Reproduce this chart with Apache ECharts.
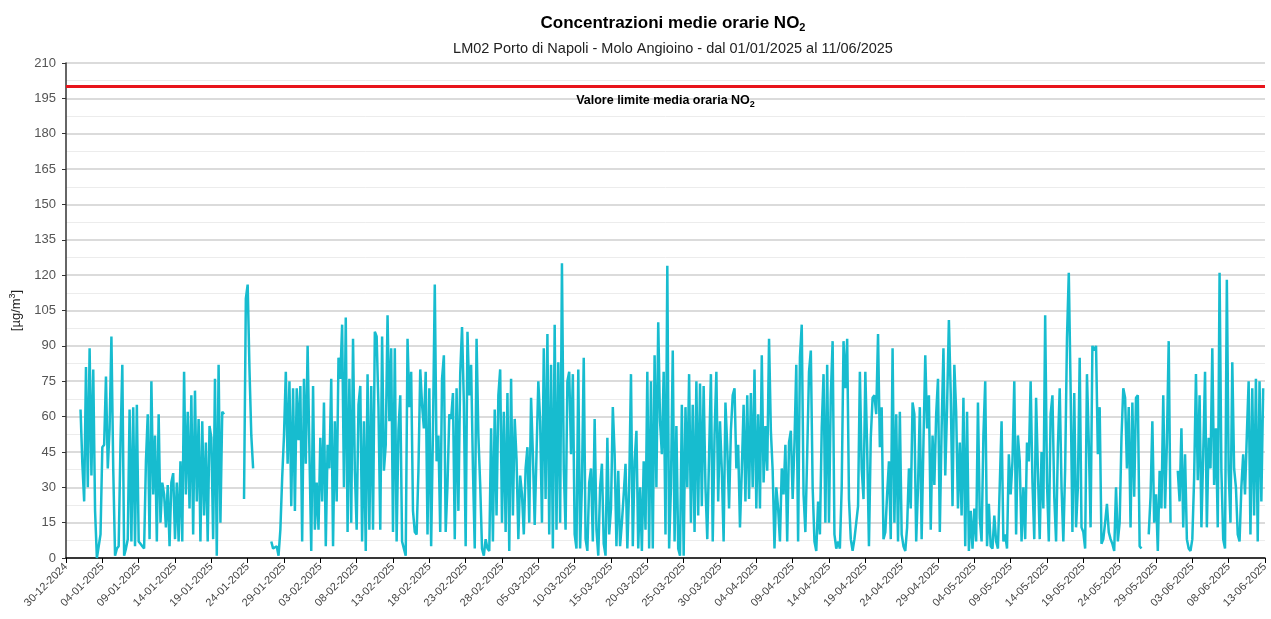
<!DOCTYPE html>
<html>
<head>
<meta charset="utf-8">
<script src="https://cdn.jsdelivr.net/npm/echarts@6/dist/echarts.min.js"></script>
<style>
html, body { margin: 0; padding: 0; background: #fff; }
#chart { width: 1271px; height: 619px; }
</style>
</head>
<body>
<div id="chart"></div>
<script>
// valori medi orari NO2 (ug/m3), un valore ogni 6 ore a partire dal 01-01-2025 00:00
// null = dato mancante
var part1 = [63, 40, 24, 81, 30, 89, 35, 80, 20, 0, 5, 10, 47, 48, 77, 38, 55, 94, 38, 1,
	4, 5, 49, 82, 1, 4, 8, 63, 7, 64, 5, 65, 7, 6, 5, 4, 41, 61, 8, 75,
	27, 52, 7, 61, 15, 32, 27, 13, 31, 5, 32, 36, 8, 32, 7, 41, 7, 79];
var part2 = [27, 62, 21, 69, 10, 71, 24, 59, 7, 58, 18, 49, 7, 56, 51, 8, 76, 1, 82, 15, 62, 61,
	null, null, null, null, null, null, null, null, null, null,
	25, 110, 116, 80, 52, 38,
	null, null, null, null, null, null, null, null, null,
	7, 4, 4, 5, 1, 12, 34, 52, 79, 40, 75, 22, 72, 20, 72, 50, 73, 7, 76, 40];
var part3 = [90, 45, 3, 73, 12, 32, 12, 51, 24, 66, 5, 48, 38, 76, 5, 58, 24, 85, 76, 99,
	30, 102, 11, 76, 15, 93, 37, 12, 65, 73, 7, 58, 3, 78, 12, 73, 12, 96, 94, 64,
	12, 94, 37, 48, 103, 58, 89, 11, 89, 7, 54, 69, 7, 4, 1, 93, 64, 79, 20, 11, 10, 37, 80, 65];
var part4 = [55, 79, 10, 72, 5, 54, 116, 41, 52, 11, 76, 86, 11, 31, 61, 59, 70, 8, 72, 20,
	78, 98, 66, 5, 96, 69, 82, 38, 4, 93, 52, 31, 4, 1, 8, 4, 3, 55, 7, 63,
	18, 69, 80, 15, 62, 11, 70, 3, 76, 18, 59, 42, 8, 35, 27, 10, 38, 47, 15, 68,
	44, 14, 44, 75, 58, 15, 89];
var part5 = [25, 95, 10, 82, 4, 99, 12, 83, 15, 125, 38, 12, 75, 79, 44, 78, 10, 4, 80, 4,
	31, 85, 8, 3, 32, 38, 7, 59, 12, 1, 30, 40, 6, 1, 51, 10, 21, 64, 44, 5,
	37, 5, 15, 27, 40, 4, 30, 78, 5, 41, 54, 4, 30, 3, 41, 12, 79, 4, 75, 4,
	86, 30, 100, 58, 44, 79];
var part6 = [10, 124, 4, 30, 88, 7, 56, 4, 1, 65, 1, 64, 30, 78, 15, 65, 11, 75, 18, 74,
	22, 73, 30, 8, 44, 78, 7, 52, 79, 24, 58, 37, 7, 66, 47, 21, 54, 69, 72, 38,
	48, 13, 37, 65, 24, 69, 25, 70, 30, 80, 21, 61, 21, 86, 32, 56, 37, 93, 54, 37,
	4, 30, 21, 7, 38, 27, 48];
var part7 = [7, 49, 54, 25, 49, 82, 7, 85, 99, 27, 11, 44, 79, 88, 30, 7, 3, 24, 10, 55,
	78, 15, 82, 15, 69, 92, 10, 4, 7, 4, 30, 92, 72, 93, 25, 8, 3, 8, 15, 22,
	79, 38, 25, 79, 47, 5, 51, 68, 69, 61, 95, 47, 64, 8, 11, 27, 41, 8, 89, 15,
	61, 7, 62, 10, 5];
var part8 = [3, 13, 38, 21, 66, 61, 7, 30, 64, 8, 49, 86, 55, 69, 12, 52, 31, 61, 76, 11,
	55, 89, 35, 64, 101, 70, 22, 82, 62, 21, 49, 18, 68, 5, 62, 3, 20, 4, 21, 7,
	66, 17, 7, 52, 75, 5, 23, 5, 4, 18, 7, 4, 4, 58, 7, 10, 4, 44, 27, 41,
	75, 10, 52, 41, 7];
var part9 = [30, 8, 49, 41, 75, 32, 8, 68, 37, 8, 45, 21, 103, 32, 7, 61, 69, 26, 7, 47,
	72, 30, 7, 38, 93, 121, 72, 11, 70, 13, 30, 85, 13, 11, 4, 78, 49, 13, 90, 88,
	90, 44, 64, 6, 8, 15, 23, 11, 8, 6, 3, 30, 7, 15, 51, 72, 68, 38, 64, 13,
	66, 26, 68, 69, 5, 4, null];
var part10 = [null, null, 10, 26, 58, 15, 27, 3, 37, 21, 69, 21, 49, 92, 15,
	null, null, null,
	37, 24, 55, 13, 44, 8, 4, 3, 8, 34, 78, 33, 69, 13, 44, 79, 13, 51, 38, 89, 31, 55, 13, 121,
	37, 8, 4, 118, 37, 15, 83, 38, 30, 10, 7, 30, 44, 27, 52, 75, 10, 72, 18, 76, 7, 75, 24, 72];

var limiteOrario = 200;
var yTicks = [0, 210, 15]; // min, max, passo
var xTicks = [0, 165, 5];  // giorni dal 30-12-2024, passo 5 giorni

var valori = [].concat(part1, part2, part3, part4, part5, part6, part7, part8, part9, part10);

// asse x in giorni dal 30-12-2024; primo dato 01-01-2025 00:00, passo 6 ore
var origine = Date.UTC(2024, 11, 30);
var serie = [];
for (var i = 0; i < valori.length; i++) {
	serie.push([2 + i * 0.25, valori[i]]);
}

function pad(n) { return n < 10 ? '0' + n : '' + n; }
function etichettaData(v) {
	var d = new Date(origine + v * 86400000);
	return pad(d.getUTCDate()) + '-' + pad(d.getUTCMonth() + 1) + '-' + d.getUTCFullYear();
}

var font = 'Liberation Sans, Arial, sans-serif';
var chart = echarts.init(document.getElementById('chart'));
var option = {
	animation: false,
	backgroundColor: '#fff',
	title: {
		text: 'Concentrazioni medie orarie NO{sub|2}',
		subtext: 'LM02 Porto di Napoli - Molo Angioino - dal 01/01/2025 al 11/06/2025',
		left: 668,
		textAlign: 'center',
		top: 9,
		itemGap: 9,
		textStyle: {
			fontFamily: font, fontSize: 17, fontWeight: 'bold', color: '#000',
			rich: { sub: { fontFamily: font, fontSize: 11, fontWeight: 'bold', color: '#000', padding: [8, 0, 0, 0] } }
		},
		subtextStyle: { fontFamily: font, fontSize: 14.5, color: '#222' }
	},
	grid: { left: 66, right: 5, top: 63, bottom: 61 },
	xAxis: {
		type: 'value',
		min: xTicks[0], max: xTicks[1], interval: xTicks[2],
		axisLine: { show: true, lineStyle: { color: '#000', width: 1.5 } },
		axisTick: { show: true, length: 5, lineStyle: { color: '#000' } },
		splitLine: { show: false },
		axisLabel: {
			rotate: 45, fontFamily: font, fontSize: 11, color: '#444', margin: 7,
			formatter: etichettaData
		}
	},
	yAxis: {
		type: 'value',
		min: yTicks[0], max: yTicks[1], interval: yTicks[2],
		name: '[µg/m{sup|3}]',
		nameLocation: 'middle',
		nameGap: 42,
		nameTextStyle: {
			fontFamily: font, fontSize: 13, color: '#222',
			rich: { sup: { fontFamily: font, fontSize: 9, color: '#222', padding: [0, 0, 7, 0] } }
		},
		axisLine: { show: true, lineStyle: { color: '#333', width: 1.5 } },
		axisTick: { show: true, length: 4, lineStyle: { color: '#333' } },
		axisLabel: { fontFamily: font, fontSize: 13, color: '#555', margin: 10 },
		splitLine: { show: true, lineStyle: { color: '#cfcfcf', width: 1.5 } },
		minorTick: { show: false, splitNumber: 2 },
		minorSplitLine: { show: true, lineStyle: { color: '#ececec', width: 1 } }
	},
	series: [{
		name: 'NO2',
		type: 'line',
		data: serie,
		showSymbol: false,
		connectNulls: false,
		lineStyle: { color: '#17bccf', width: 2.5 },
		itemStyle: { color: '#17bccf' },
		markLine: {
			silent: true,
			symbol: 'none',
			data: [{ yAxis: limiteOrario }],
			lineStyle: { color: '#e8141b', width: 3, type: 'solid' },
			label: {
				show: true,
				position: 'insideMiddleBottom',
				distance: 6,
				formatter: 'Valore limite media oraria NO{sub|2}',
				fontFamily: font, fontSize: 12.5, fontWeight: 'bold', color: '#000',
				rich: { sub: { fontFamily: font, fontSize: 9, fontWeight: 'bold', color: '#000', padding: [7, 0, 0, 0] } }
			}
		}
	}]
};
chart.setOption(option);
</script>
</body>
</html>
